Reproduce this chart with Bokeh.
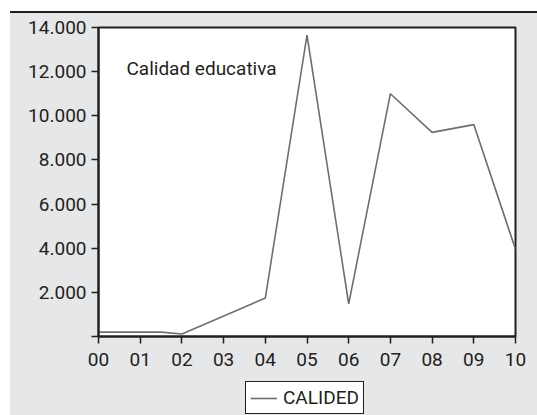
from bokeh.plotting import figure
from bokeh.models import (Range1d, FixedTicker, Label, Legend, LegendItem,
                          Spacer, ColumnDataSource)
from bokeh.layouts import column, row
from bokeh.embed import file_html
from bokeh.resources import INLINE

# ---- data ----
years = [0, 1.5, 2, 4, 5, 6, 7, 8, 9, 10]
calided = [200, 200, 110, 1740, 13650, 1480, 11000, 9250, 9600, 3950]
x_ticks = list(range(0, 11))
x_labels = ["00", "01", "02", "03", "04", "05", "06", "07", "08", "09", "10"]
y_ticks = [0, 2000, 4000, 6000, 8000, 10000, 12000, 14000]
y_labels = ["", "2.000", "4.000", "6.000", "8.000", "10.000", "12.000", "14.000"]
series_name = "CALIDED"
title_text = "Calidad educativa"

FONT = "Roboto"
INK = "#231f20"
BG = "#e6e7e8"
LINE = "#6d6e71"

p = figure(width=527, height=367, output_backend="svg", toolbar_location=None,
           x_range=Range1d(0, 10), y_range=Range1d(0, 14000),
           min_border_left=88, min_border_right=22, min_border_top=14,
           min_border_bottom=44)
p.border_fill_color = BG
p.background_fill_color = "white"
p.outline_line_color = INK
p.outline_line_width = 2
p.grid.visible = False

src = ColumnDataSource(dict(x=years, y=calided))
r = p.line("x", "y", source=src, line_color=LINE, line_width=1.6)

for ax in (p.xaxis[0], p.yaxis[0]):
    ax.axis_line_color = INK
    ax.axis_line_width = 2
    ax.major_tick_line_color = INK
    ax.major_tick_line_width = 1.5
    ax.major_tick_out = 7
    ax.major_tick_in = 0
    ax.minor_tick_line_color = None
    ax.major_label_text_font = FONT
    ax.major_label_text_font_size = "19px"
    ax.major_label_text_color = INK

p.xaxis.ticker = FixedTicker(ticks=x_ticks)
p.xaxis.major_label_overrides = {t: l for t, l in zip(x_ticks, x_labels)}
p.xaxis.major_label_standoff = 9
p.yaxis.ticker = FixedTicker(ticks=y_ticks)
p.yaxis.major_label_overrides = {t: l for t, l in zip(y_ticks, y_labels)}
p.yaxis.major_label_standoff = 5

p.add_layout(Label(x=0.67, y=12150, text=title_text, text_font=FONT,
                   text_font_size="19px", text_color=INK,
                   text_baseline="alphabetic"))

# legend strip below the chart (its series line lies outside this strip's ranges)
p2 = figure(width=527, height=35, output_backend="svg", toolbar_location=None,
            x_range=Range1d(20, 21), y_range=Range1d(-2, -1),
            x_axis_type=None, y_axis_type=None,
            min_border_left=0, min_border_right=0, min_border_top=0,
            min_border_bottom=0)
p2.border_fill_color = BG
p2.background_fill_color = BG
p2.outline_line_color = None
p2.grid.visible = False
r2 = p2.line("x", "y", source=src, line_color=LINE, line_width=1.6)

legend = Legend(items=[LegendItem(label=series_name, renderers=[r2])],
                orientation="horizontal", location=(147, 1))
legend.label_text_font = FONT
legend.label_text_font_size = "19px"
legend.label_text_color = INK
legend.border_line_color = INK
legend.border_line_width = 1.5
legend.border_line_alpha = 1
legend.background_fill_color = "white"
legend.background_fill_alpha = 1
legend.glyph_width = 27
legend.glyph_height = 18
legend.label_standoff = 6
legend.padding = 4
legend.margin = 0
legend.spacing = 0
legend.label_height = 18
p2.add_layout(legend)

top_white = Spacer(width=527, height=11, styles={"background-color": "white"})
top_line = Spacer(width=527, height=2, styles={"background-color": INK})
layout = row(Spacer(width=10, height=415, styles={"background-color": "white"}),
             column(top_white, top_line, p, p2, spacing=0,
                    styles={"background-color": BG}),
             spacing=0)

open("out.html", "w").write(file_html(layout, INLINE))
